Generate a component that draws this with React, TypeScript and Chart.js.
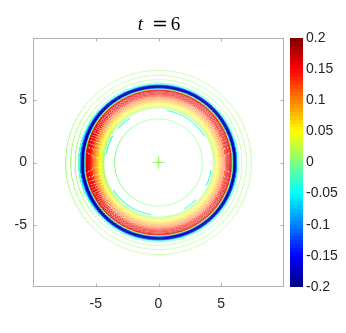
import React, { useEffect, useRef } from "react";
import { Chart, registerables } from "chart.js";
Chart.register(...registerables);

// Contour rings (full circles): radius and contour level
const ringRadii = [
  7.4, 7.0, 6.65, 6.38, 6.3, 6.23, 6.2, 6.17, 6.14, 6.11, 6.08, 6.05, 6.02,
  5.99, 5.96, 5.94, 5.92, 5.9, 5.87, 5.84, 5.8, 5.75, 5.67, 5.58, 5.5, 5.42,
  5.33, 5.24, 5.16, 5.08, 5.0, 4.92, 4.84, 4.76, 4.68, 4.6, 4.52, 4.45, 4.38,
  3.5,
];
const ringLevels = [
  0.01, 0.01, 0.01, -0.02, -0.05, -0.1, -0.14, -0.17, -0.19, -0.2, -0.2,
  -0.19, -0.16, -0.12, -0.08, -0.04, 0.0, 0.05, 0.1, 0.14, 0.16, 0.17, 0.17,
  0.16, 0.15, 0.14, 0.13, 0.12, 0.11, 0.1, 0.09, 0.08, 0.07, 0.06, 0.05, 0.04,
  0.03, 0.02, 0.01, 0.0,
];
// Broken contour arcs (degrees)
const arcRadius = 4.22;
const arcLevel = -0.03;
const arcStarts = [30, 122, 149, 212, -61, -26];
const arcEnds = [81, 140, 170, 262, -45, -9];
// Center feature
const centerLevel = 0.01;

const xTicks = [-5, 0, 5];
const yTicks = [-5, 0, 5];
const cbTicks = [-0.2, -0.15, -0.1, -0.05, 0, 0.05, 0.1, 0.15, 0.2];
const cbLabels = ["-0.2", "-0.15", "-0.1", "-0.05", "0", "0.05", "0.1", "0.15", "0.2"];
const cMin = -0.2;
const cMax = 0.2;

function jet(v: number): string {
  const x = Math.min(1, Math.max(0, (v - cMin) / (cMax - cMin)));
  const c = (t: number) => Math.round(255 * Math.min(1, Math.max(0, t)));
  const r = c(1.5 - Math.abs(4 * x - 3));
  const g = c(1.5 - Math.abs(4 * x - 2));
  const b = c(1.5 - Math.abs(4 * x - 1));
  return `rgb(${r},${g},${b})`;
}

function arcPoints(r: number, a0: number, a1: number) {
  const pts: { x: number; y: number }[] = [];
  const n = Math.max(2, Math.ceil(Math.abs(a1 - a0) / 0.75));
  for (let i = 0; i <= n; i++) {
    const a = ((a0 + ((a1 - a0) * i) / n) * Math.PI) / 180;
    pts.push({ x: r * Math.cos(a), y: r * Math.sin(a) });
  }
  return pts;
}

const FONT = "'Liberation Sans', Arial, Helvetica, sans-serif";
const TXT = "#262626";
const AX = "#b0b0b0";

const boxPlugin = {
  id: "box",
  afterDraw(chart: any) {
    const { ctx, chartArea: a, scales } = chart;
    ctx.save();
    ctx.strokeStyle = AX;
    ctx.lineWidth = 1;
    const L = Math.round(a.left) + 0.5,
      R = Math.round(a.right) - 0.5,
      T = Math.round(a.top) + 0.5,
      B = Math.round(a.bottom) - 0.5;
    ctx.strokeRect(L, T, R - L, B - T);
    ctx.beginPath();
    const tl = 3;
    for (const v of xTicks) {
      const px = Math.round(scales.x.getPixelForValue(v)) + 0.5;
      ctx.moveTo(px, B);
      ctx.lineTo(px, B - tl);
      ctx.moveTo(px, T);
      ctx.lineTo(px, T + tl);
    }
    for (const v of yTicks) {
      const py = Math.round(scales.y.getPixelForValue(v)) + 0.5;
      ctx.moveTo(L, py);
      ctx.lineTo(L + tl, py);
      ctx.moveTo(R, py);
      ctx.lineTo(R - tl, py);
    }
    ctx.stroke();
    // title: t = 6
    const cx = (a.left + a.right) / 2;
    ctx.fillStyle = "#000";
    ctx.textBaseline = "alphabetic";
    ctx.textAlign = "center";
    ctx.font = "italic 19px 'Liberation Serif', 'Times New Roman', serif";
    ctx.fillText("t", cx - 18, 29.5);
    ctx.font = "19px 'DejaVu Serif', serif";
    ctx.fillText("=", cx + 1.5, 29.5);
    ctx.font = "19px 'Liberation Serif', 'Times New Roman', serif";
    ctx.fillText("6", cx + 17, 29.5);
    ctx.restore();
  },
};

export default function App() {
  const mainRef = useRef<HTMLCanvasElement>(null);
  const cbRef = useRef<HTMLCanvasElement>(null);

  useEffect(() => {
    const datasets: any[] = [];
    ringRadii.forEach((r, i) => {
      const lvl = ringLevels[i];
      datasets.push({
        data: arcPoints(r, 0, 360),
        borderColor: jet(lvl),
        borderWidth: lvl <= -0.1 ? 0.8 : lvl >= 0.13 ? 0.75 : 0.5,
        showLine: true,
        pointRadius: 0,
        fill: false,
        tension: 0,
      });
    });
    arcStarts.forEach((s, i) => {
      datasets.push({
        data: arcPoints(arcRadius, s, arcEnds[i]),
        borderColor: jet(arcLevel),
        borderWidth: 1,
        showLine: true,
        pointRadius: 0,
        fill: false,
      });
    });
    datasets.push({
      data: [{ x: 0, y: 0 }],
      pointStyle: "cross",
      pointRadius: 6,
      borderWidth: 1.2,
      pointBorderColor: jet(centerLevel),
      pointBackgroundColor: jet(centerLevel),
      showLine: false,
    });
    datasets.push({
      data: [{ x: 0, y: 0 }],
      pointStyle: "rectRot",
      pointRadius: 2,
      borderWidth: 0,
      pointBorderColor: jet(centerLevel),
      pointBackgroundColor: jet(centerLevel),
      showLine: false,
    });

    const main = new Chart(mainRef.current!, {
      type: "scatter",
      data: { datasets },
      options: {
        animation: false,
        responsive: false,
        events: [],
        layout: { padding: { left: 0, top: 38, right: 62, bottom: 0 } },
        plugins: { legend: { display: false }, tooltip: { enabled: false }, title: { display: false } },
        scales: {
          x: {
            type: "linear",
            min: -10,
            max: 10,
            grid: { display: false, drawTicks: false },
            border: { display: false },
            afterBuildTicks: (s: any) => {
              s.ticks = xTicks.map((v) => ({ value: v }));
            },
            afterFit: (s: any) => {
              s.height = 46;
            },
            ticks: { color: TXT, font: { family: FONT, size: 14 }, padding: 9, maxRotation: 0 },
          },
          y: {
            type: "linear",
            min: -10,
            max: 10,
            grid: { display: false, drawTicks: false },
            border: { display: false },
            afterBuildTicks: (s: any) => {
              s.ticks = yTicks.map((v) => ({ value: v }));
            },
            afterFit: (s: any) => {
              s.width = 33;
            },
            ticks: { color: TXT, font: { family: FONT, size: 14 }, padding: 6 },
          },
        },
      },
      plugins: [boxPlugin],
    });

    const cb = new Chart(cbRef.current!, {
      type: "bar",
      data: {
        labels: ["c"],
        datasets: [
          {
            data: [[cMin, cMax]] as any,
            borderWidth: 0,
            barPercentage: 1,
            categoryPercentage: 1,
            backgroundColor: (ctx: any) => {
              const a = ctx.chart.chartArea;
              if (!a) return "#000";
              const g = ctx.chart.ctx.createLinearGradient(0, a.bottom, 0, a.top);
              const n = 64;
              for (let i = 0; i < n; i++) {
                const v = cMin + ((cMax - cMin) * (i + 0.5)) / n;
                g.addColorStop(i / n, jet(v));
                g.addColorStop((i + 1) / n, jet(v));
              }
              return g;
            },
          },
        ],
      },
      options: {
        animation: false,
        responsive: false,
        events: [],
        layout: { padding: { left: 290, top: 38, right: 0, bottom: 46 } },
        plugins: { legend: { display: false }, tooltip: { enabled: false } },
        scales: {
          x: { display: false },
          y: {
            position: "right",
            min: cMin,
            max: cMax,
            grid: { display: false, drawTicks: false },
            border: { display: false },
            afterBuildTicks: (s: any) => {
              s.ticks = cbTicks.map((v) => ({ value: v }));
            },
            afterFit: (s: any) => {
              s.width = 43;
            },
            ticks: {
              color: TXT,
              font: { family: FONT, size: 14 },
              padding: 3,
              callback: (_v: any, i: number) => cbLabels[i],
            },
          },
        },
      },
    });

    return () => {
      main.destroy();
      cb.destroy();
    };
  }, []);

  return (
    <div style={{ position: "absolute", left: 0, top: 0, width: 346, height: 333, background: "#fff" }}>
      <canvas ref={mainRef} width={346} height={333} style={{ position: "absolute", left: 0, top: 0, width: 346, height: 333 }} />
      <canvas ref={cbRef} width={346} height={333} style={{ position: "absolute", left: 0, top: 0, width: 346, height: 333 }} />
    </div>
  );
}
